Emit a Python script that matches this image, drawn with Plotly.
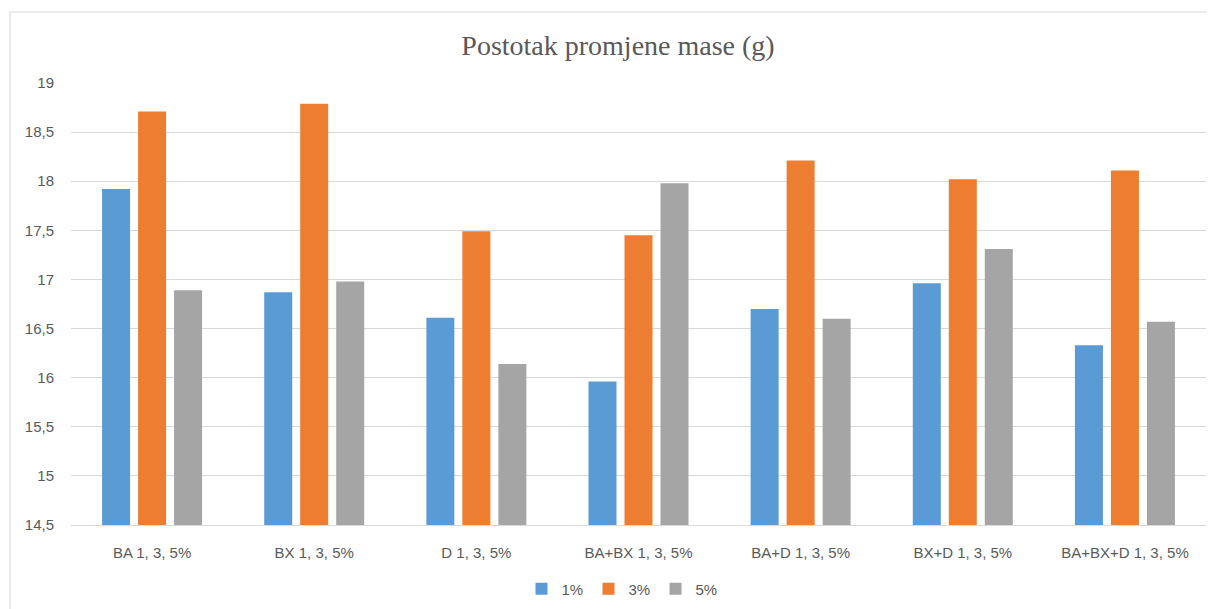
import plotly.graph_objects as go

categories = ["BA 1, 3, 5%", "BX 1, 3, 5%", "D 1, 3, 5%", "BA+BX 1, 3, 5%",
              "BA+D 1, 3, 5%", "BX+D 1, 3, 5%", "BA+BX+D 1, 3, 5%"]
series_names = ["1%", "3%", "5%"]
s1 = [17.92, 16.87, 16.61, 15.96, 16.70, 16.96, 16.33]
s3 = [18.71, 18.79, 17.49, 17.45, 18.21, 18.02, 18.11]
s5 = [16.89, 16.98, 16.14, 17.98, 16.60, 17.31, 16.57]
tick_vals = [14.5, 15, 15.5, 16, 16.5, 17, 17.5, 18, 18.5, 19]
tick_text = ["14,5", "15", "15,5", "16", "16,5", "17", "17,5", "18", "18,5", "19"]
colors = ["#5B9BD5", "#ED7D31", "#A5A5A5"]

OFF = 8  # page body margin
W, H = 1215 - OFF, 640
# target screen positions of plot area
PL, PR, PT, PB = 71, 1206, 83, 525
L = PL - OFF
R = (OFF + W) - PR
T = PT - OFF
B = (OFF + H) - PB
pw, ph = PR - PL, PB - PT

def px_x(x):
    return (x - PL) / pw

def px_y(y):
    return (PB - y) / ph

fig = go.Figure()
for name, vals, c in zip(series_names, [s1, s3, s5], colors):
    fig.add_trace(go.Bar(x=categories, y=vals, name=name, marker_color=c,
                         marker_line_width=0))

fig.add_shape(type="rect", xref="paper", yref="paper",
              x0=px_x(10), x1=px_x(1214), y0=px_y(660), y1=px_y(12),
              line=dict(color="#D9D9D9", width=1.2), fillcolor="rgba(0,0,0,0)", layer="below")

fig.update_layout(
    width=W, height=H,
    margin=dict(l=L, r=R, t=T, b=B),
    paper_bgcolor="white", plot_bgcolor="white",
    barmode="group", bargap=0.334, bargroupgap=0.222,
    title=dict(text="Postotak promjene mase (g)", xref="container",
               x=(618 - OFF) / W, xanchor="center",
               y=1 - (45 - OFF) / H, yanchor="middle",
               font=dict(family="Liberation Serif, Times New Roman, serif", size=28, color="#595959")),
    font=dict(family="Liberation Sans, Arial, sans-serif", size=15, color="#595959"),
    showlegend=True,
    legend=dict(orientation="h", x=px_x(622), xanchor="center", y=px_y(589), yanchor="middle",
                font=dict(size=15, color="#595959"), itemwidth=30, entrywidth=22,
                traceorder="normal"),
    xaxis=dict(showgrid=False, showline=True, linecolor="#D9D9D9", linewidth=1.2,
               ticks="", tickfont=dict(size=15, color="#595959"), ticklabelstandoff=14),
    yaxis=dict(range=[14.5, 19], tickvals=tick_vals, ticktext=tick_text,
               showgrid=True, gridcolor="#D9D9D9", gridwidth=1.2, zeroline=False,
               showline=False, ticks="", tickfont=dict(size=15, color="#595959"),
               ticklabelstandoff=16),
)
fig.write_html("out.html")
